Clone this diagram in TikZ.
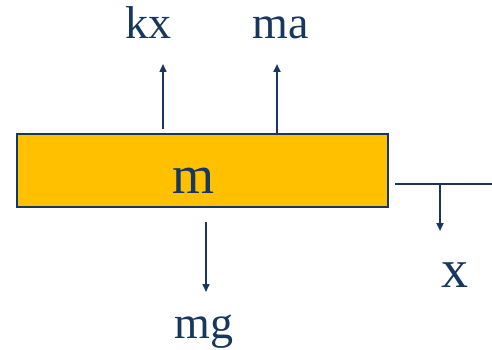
\documentclass[tikz,border=0pt]{standalone}
\usepackage{fontspec}
\setmainfont{Liberation Serif}
\usetikzlibrary{arrows.meta}
\definecolor{navy}{HTML}{17375E}
\definecolor{mass}{HTML}{FFC000}

\begin{document}
\begin{tikzpicture}[x=1pt,y=-1pt,>={Triangle[length=8pt,width=7pt]},line cap=butt,
  lbl/.style={anchor=base,text=navy,font=\fontsize{46}{50}\selectfont},
  big/.style={anchor=base,text=navy,font=\fontsize{54}{60}\selectfont},
  force/.style={->,draw=navy,line width=1.5pt},
  heavy/.style={->,draw=navy,line width=2.5pt}]
\useasboundingbox (0,0) rectangle (492,350);
% block
\node[draw=navy,fill=mass,line width=2pt,minimum width=371pt,minimum height=73pt,inner sep=0pt] (blk) at (202.5,170.5) {};
\node[big] (mlbl) at (193,193) {m};
% forces
\coordinate (kxtop) at (163,64);
\coordinate (matop) at (277,64);
\coordinate (mgbot) at (206,292);
\draw[force] (163,129) -- (kxtop);
\draw[heavy] (blk.north -| matop) -- (matop);
\draw[force] (206,222) -- (mgbot);
\node[lbl] (kx) at (148,39) {kx};
\node[lbl] (ma) at (281,39) {ma};
\node[lbl] (mg) at (204,338) {mg};
% displacement
\coordinate (xl) at (395,184);
\coordinate (xr) at (492,184);
\coordinate (xbot) at (440,231);
\draw[navy,line width=2.5pt] (xl) -- (xr);
\draw[heavy] (xl -| xbot) -- (xbot);
\node[big] (xlbl) at (455,287) {x};
\end{tikzpicture}
\end{document}
